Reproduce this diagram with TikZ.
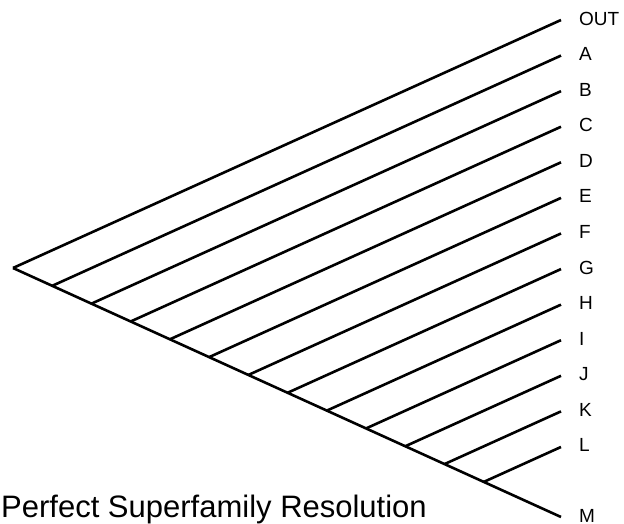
\documentclass[tikz,border=0pt]{standalone}
\usepackage{fontspec}
\setmainfont{Liberation Sans}
\usetikzlibrary{positioning, calc}

\tikzset{
  branch/.style={draw, line width=2.6pt},
  taxon/.style={inner sep=0pt, font=\fontsize{19}{19}\selectfont},
  caption/.style={inner sep=0pt, font=\fontsize{31}{31}\selectfont}
}

\begin{document}
\begin{tikzpicture}[x=1pt, y=-1pt]
  \useasboundingbox (0,0) rectangle (624,524);

  % root and the two outer tips
  \coordinate (root) at (13,268);
  \coordinate (t0) at (561,20);
  \coordinate (tM) at (561,517);

  \draw[branch] (root) -- (t0);
  \draw[branch] (root) -- (tM);

  % inner branches, parallel to the outgroup line
  \foreach \i in {1,...,12} {
    \coordinate (t\i) at (561,{20+\i*35.58});
    \coordinate (b\i) at ($(root)!{\i*35.58/497}!(tM)$);
    \draw[branch] (b\i) -- (t\i);
  }

  % tip labels
  \foreach \lab [count=\i from 0] in {OUT,A,B,C,D,E,F,G,H,I,J,K,L}
    \node[taxon, right=18pt of t\i, yshift=1.5pt] (lab\i) {\lab};
  \node[taxon, right=18pt of tM, yshift=1pt] (labM) {M};

  \node[caption, anchor=base west] (title) at (1,517) {Perfect Superfamily Resolution};
\end{tikzpicture}
\end{document}
